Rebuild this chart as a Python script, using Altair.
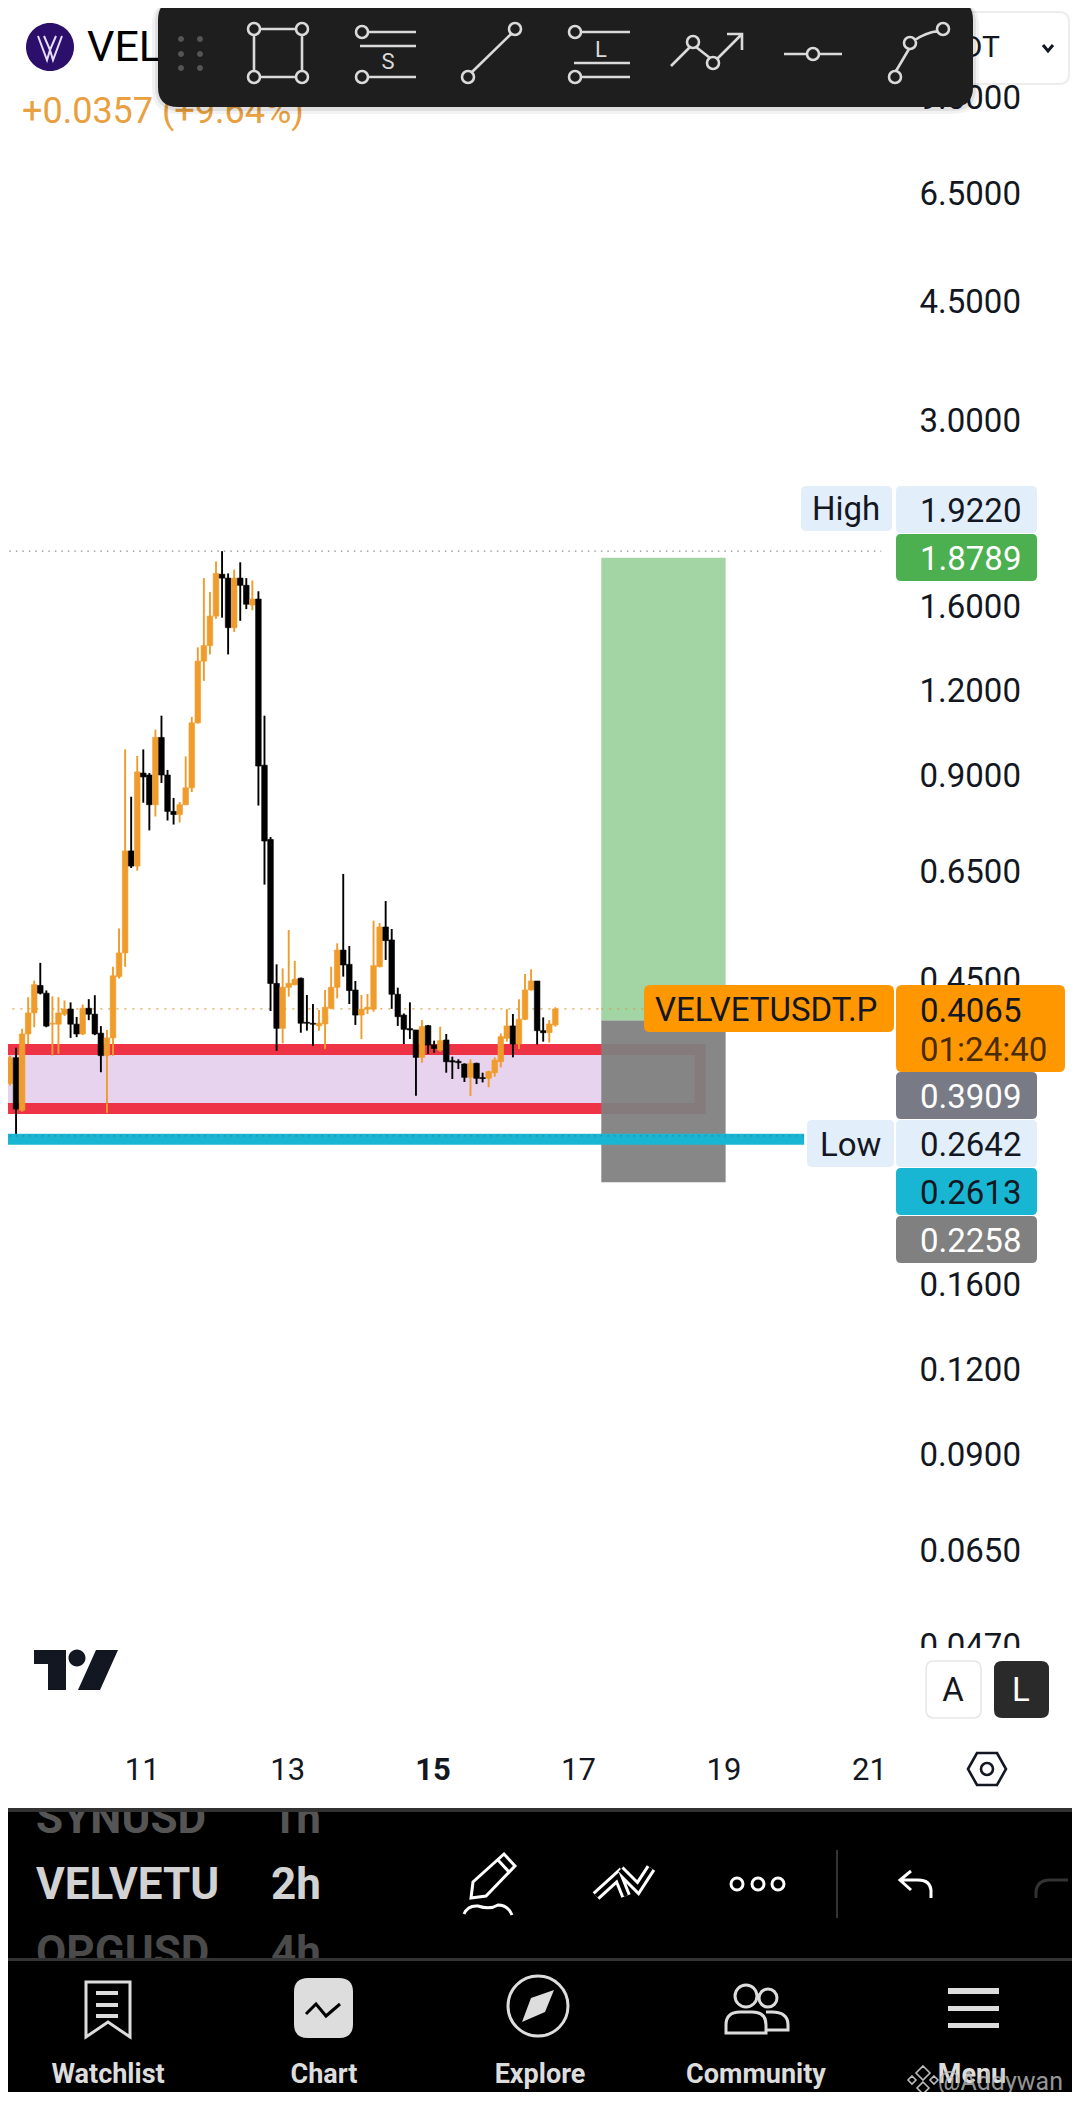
import altair as alt
import pandas as pd

# ---------- candle data (2h candles, days of the month) ----------
first_day = 9.1875
opens = [.3156,.3445,.2882,.3734,.4010,.4402,.4288,.3860,.3860,.3993,.4063,.3860,.3734,.4074,.3993,.3744,.3469,.3684,.4536,.4916,
         .6949,.6601,.9051,.8991,.8128,1.0214,.8991,.7946,.7862,.8128,.8610,1.0732,1.3232,1.3948,1.5418,1.7772,1.7538,1.4824,1.7538,1.7116,
         1.6006,1.6335,.9295,.7225,.4432,.3806,.4374,.4413,.4511,.3885,.3872,.3837,.3863,.4074,.4374,.4964,.4729,.4335,.3981,.4061,
         .4061,.4691,.5368,.5137,.4272,.3981,.3802,.3785,.3449,.3841,.3596,.3535,.3658,.3410,.3402,.3372,.3223,.3380,.3220,.3212,
         .3274,.3398,.3679,.3837,.3609,.3924,.4335,.4469,.3776,.3750,.3850]
highs = [.3469,.3562,.3800,.4230,.4475,.4753,.4328,.4242,.4230,.4184,.4156,.3956,.4127,.4202,.4259,.3835,.3785,.4689,.5342,.9807,
         .8352,.9589,.9807,.9051,1.0488,1.0996,.9147,.8318,.8206,.9577,1.0952,1.3866,1.7538,1.6729,1.8554,1.9220,1.7819,1.8053,1.8504,1.7538,
         1.7397,1.6773,1.0996,.7284,.4729,.4665,.5313,.4784,.4521,.4262,.4133,.4049,.4335,.4691,.5079,.6427,.5033,.4469,.4262,.4277,
         .5485,.5442,.5862,.5332,.4369,.4003,.4157,.3785,.3915,.3850,.3650,.3828,.3733,.3457,.3426,.3380,.3426,.3387,.3274,.3297,
         .3449,.3741,.4061,.3996,.4199,.4578,.4650,.4469,.3950,.3915,.4088]
lows = [.3135,.2642,.2867,.3609,.3820,.4270,.3820,.3469,.3492,.3967,.3684,.3694,.3719,.3913,.3719,.3279,.2856,.3469,.4506,.4689,
        .6558,.6498,.8184,.7450,.7810,.8752,.7705,.7600,.7653,.8128,.8486,1.0703,1.2373,1.3536,1.5275,1.5336,1.3536,1.4610,1.5173,1.5787,
        1.5726,.8106,.6198,.4036,.3527,.3617,.4238,.4404,.3750,.3776,.3588,.3776,.3547,.4061,.4213,.4536,.4133,.3850,.3671,.3996,
        .4028,.4681,.4800,.4066,.3837,.3609,.3671,.3028,.3387,.3489,.3504,.3516,.3274,.3205,.3315,.3172,.3025,.3150,.3168,.3116,
        .3230,.3334,.3638,.3449,.3547,.3915,.4326,.3604,.3638,.3626,.3828]
closes = [.3445,.2894,.3734,.4010,.4414,.4288,.3835,.3871,.4010,.4063,.3860,.3734,.4074,.3993,.3734,.3469,.3684,.4549,.4916,.6949,
          .6601,.9087,.8932,.8128,1.0214,.8991,.7946,.7862,.8128,.8610,1.0732,1.3232,1.3948,1.5418,1.7819,1.7538,1.4824,1.7538,1.7116,1.6050,
          1.6335,.9269,.7186,.4432,.3806,.4374,.4433,.4495,.3872,.3872,.3859,.3872,.4088,.4374,.4964,.4718,.4326,.3981,.4061,.4088,
          .4707,.5368,.5125,.4272,.3959,.3793,.3785,.3449,.3828,.3596,.3555,.3650,.3398,.3395,.3387,.3223,.3380,.3212,.3209,.3286,
          .3418,.3700,.3837,.3609,.3924,.4335,.4469,.3776,.3750,.3863,.4065]

# ---------- price levels ----------
high_price, low_price, last_price = 1.9220, 0.2642, 0.4065
tp_price, entry_price, sl_price = 1.8789, 0.3909, 0.2258
zone_top, zone_bottom = 0.3542, 0.2899
support_price = 0.2613
box_start, box_end, zone_end, support_end, high_end, last_end, left_day = 17.32, 19.03, 18.68, 20.11, 21.17, 17.9, 9.0

y_ticks = [9.0, 6.5, 4.5, 3.0, 1.6, 1.2, 0.9, 0.65, 0.45, 0.16, 0.12, 0.09, 0.065, 0.047]
x_ticks = [11, 13, 15, 17, 19, 21]

# ---------- colours ----------
UP, DOWN = "#F09C2C", "#000000"
RED, PURPLE = "#EF3347", "#E8D3EE"
CYAN, GREEN, GRAY = "#18B6D2", "#A2D5A3", "#808080"
ORANGE, LIGHT = "#FF9800", "#E3EEFB"
FONT = "Roboto"

candles = pd.DataFrame({
    "day": [first_day + i / 12 for i in range(len(opens))],
    "o": opens, "h": highs, "l": lows, "c": closes,
})
candles["color"] = [UP if c >= o else DOWN for o, c in zip(opens, closes)]

xs = alt.Scale(domain=[9.2289, 23.7248], nice=False, zero=False)
ys = alt.Scale(type="log", domain=[0.01030, 12.14], nice=False, zero=False)
X = lambda f: alt.X(f, type="quantitative", scale=xs, title=None)
Y = lambda f: alt.Y(f, type="quantitative", scale=ys, title=None)

layers = []


def path(d, fill="transparent", stroke="transparent", sw=0, op=1.0):
    """Chrome of the app window, drawn as one SVG path in window pixels."""
    layers.append(
        alt.Chart().mark_point(shape=d, size=4, filled=True, fill=fill, stroke=stroke,
                               strokeWidth=sw, opacity=op)
        .encode(x=alt.value(-8), y=alt.value(-8))
    )


def txt(s, x, y, size, color="#131722", weight=400, align="left", op=1.0):
    layers.append(
        alt.Chart().mark_text(text=s, font=FONT, fontSize=size, fontWeight=weight, color=color,
                              align=align, baseline="middle", opacity=op)
        .encode(x=alt.value(x - 8), y=alt.value(y - 6))
    )


def rr(x0, y0, x1, y1, r=0):
    if r == 0:
        return f"M{x0},{y0}L{x1},{y0}L{x1},{y1}L{x0},{y1}Z"
    return (f"M{x0+r},{y0}L{x1-r},{y0}Q{x1},{y0} {x1},{y0+r}L{x1},{y1-r}Q{x1},{y1} {x1-r},{y1}"
            f"L{x0+r},{y1}Q{x0},{y1} {x0},{y1-r}L{x0},{y0+r}Q{x0},{y0} {x0+r},{y0}Z")


def circ(cx, cy, r):
    return f"M{cx-r},{cy}A{r},{r} 0 1 1 {cx+r},{cy}A{r},{r} 0 1 1 {cx-r},{cy}Z"


def level(price, start, end, color, sw, dash=None, op=1.0):
    kw = {"strokeDash": dash} if dash else {}
    df = pd.DataFrame({"p": [price], "a": [start], "b": [end]})
    layers.append(alt.Chart(df).mark_rule(color=color, strokeWidth=sw, opacity=op, **kw)
                  .encode(x=X("a"), x2="b", y=Y("p")))


# ---------- axes: first layer carries them ----------
axis_holder = alt.Chart(pd.DataFrame({"a": [9.0], "p": [1.0]})).mark_point(opacity=0).encode(
    x=alt.X("a:Q", scale=xs, title=None, axis=alt.Axis(
        values=x_ticks, format="d", orient="bottom", offset=-322, domain=False, ticks=False, grid=False,
        labelPadding=0, labelFont=FONT, labelFontSize=31, labelColor="#131722", labelBaseline="middle",
        labelFlush=False, labelOverlap=False, zindex=1,
        labelFontWeight={"condition": {"test": "datum.value === 15", "value": 700}, "value": 400})),
    y=alt.Y("p:Q", scale=ys, title=None, axis=alt.Axis(
        values=y_ticks, format=".4f", orient="right", offset=-153, domain=False, ticks=False, grid=False,
        labelPadding=0, labelOffset=2, labelFont=FONT, labelFontSize=33, labelColor="#131722",
        labelBaseline="middle", labelAlign="left", labelFlush=False, labelOverlap=False, labelBound=False,
        zindex=0)),
)
layers.append(axis_holder)

# ---------- zone, position tool ----------
zone = pd.DataFrame({"a": [left_day], "b": [zone_end], "t": [zone_top], "u": [zone_bottom]})
layers.append(alt.Chart(zone).mark_rect(fill=PURPLE, stroke=RED, strokeWidth=11)
              .encode(x=X("a"), x2="b", y=Y("t"), y2="u"))

level(last_price, left_day, last_end, "#E0A040", 1.3, [2, 6])

# ---------- candles ----------
layers.append(alt.Chart(candles).mark_rule(strokeWidth=1.9).encode(
    x=X("day"), y=Y("h"), y2="l", color=alt.Color("color:N", scale=None, legend=None)))
layers.append(alt.Chart(candles).mark_bar(size=5.6, orient="vertical", strokeWidth=0.6).encode(
    x=X("day"), y=Y("o"), y2="c",
    color=alt.Color("color:N", scale=None, legend=None),
    stroke=alt.Stroke("color:N", scale=None, legend=None)))

level(high_price, left_day, high_end, "#8a8f99", 1.3, [1.5, 5])

boxes = pd.DataFrame({"a": [box_start, box_start], "b": [box_end, box_end],
                      "t": [tp_price, entry_price], "u": [entry_price, sl_price],
                      "color": [GREEN, GRAY], "op": [1.0, 0.94]})
layers.append(alt.Chart(boxes).mark_rect().encode(
    x=X("a"), x2="b", y=Y("t"), y2="u",
    color=alt.Color("color:N", scale=None, legend=None),
    opacity=alt.Opacity("op:Q", scale=None, legend=None)))
level(last_price, box_start, last_end, "#C9A257", 1.3, [2, 6])

level(support_price, left_day, support_end, CYAN, 11)
level(low_price, left_day, support_end, "#3d6f88", 1.2, [1.5, 5], 0.7)

# ---------- price badges ----------
path(rr(801, 486, 892, 531, 5), fill=LIGHT)
txt("High", 812, 508, 33)
path(rr(896, 486, 1037, 533, 5), fill=LIGHT)
txt("1.9220", 920, 510, 33)
path(rr(896, 534, 1037, 581, 5), fill="#4CAF50")
txt("1.8789", 920, 558, 33, "#ffffff")

path(rr(644, 985, 894, 1032, 6), fill=ORANGE)
txt("VELVETUSDT.P", 655, 1009, 33, "#131722")
path(rr(896, 985, 1065, 1072, 6), fill=ORANGE)
txt("0.4065", 920, 1010, 33, "#131722")
txt("01:24:40", 920, 1049, 33, "#4a2c00")
path(rr(896, 1072, 1037, 1119, 5), fill="#787B86")
txt("0.3909", 920, 1096, 33, "#ffffff")
path(rr(807, 1120, 894, 1167, 5), fill=LIGHT)
txt("Low", 820, 1144, 33)
path(rr(896, 1120, 1037, 1167, 5), fill=LIGHT)
txt("0.2642", 920, 1144, 33)
path(rr(896, 1168, 1037, 1215, 5), fill=CYAN)
txt("0.2613", 920, 1192, 33)
path(rr(896, 1216, 1037, 1263, 5), fill=GRAY)
txt("0.2258", 920, 1240, 33, "#ffffff")

# ---------- header ----------
path(circ(50, 47, 24), fill="#2B0F6B")
path("M38,36L47,60L50,50L53,60L62,36M44,36L50,50L56,36", stroke="#E7DDFB", sw=2)
txt("VELVETUSDT.P", 87, 46, 43, "#000000")
txt("+0.0357 (+9.64%)", 22, 110, 36, "#E8A040")
path(rr(900, 12, 1069, 84, 10), fill="#ffffff", stroke="#EDEDED", sw=2)
txt("USDT", 1000, 46, 30, "#131722", align="right")
path("M1043,45L1048,51L1053,45", stroke="#131722", sw=3)

# ---------- floating toolbar ----------
path(rr(152, 0, 979, 114, 26), fill="#000000", op=0.05)
path(rr(155, 0, 976, 111, 24), fill="#000000", op=0.08)
path(rr(158, 0, 973, 107, 20), fill="#1E1E1E")
path(circ(181, 39, 3) + circ(200, 39, 3) + circ(181, 54, 3) + circ(200, 54, 3) + circ(181, 68, 3) + circ(200, 68, 3),
     fill="#555555")
toolbar_icons = "".join([
    circ(254, 29, 6), circ(302, 29, 6), circ(254, 77, 6), circ(302, 77, 6),
    "M260,29L296,29M260,77L296,77M254,35L254,71M302,35L302,71",
    circ(362, 32, 6), circ(362, 77, 6), "M368,32L416,32M360,46L416,46M368,77L416,77",
    circ(468, 77, 6), circ(515, 29, 6), "M472,72L511,34",
    circ(575, 32, 6), circ(575, 77, 6), "M581,32L630,32M574,63L630,63M581,77L630,77",
    "M671,66L690,47", circ(693, 42, 6), "M696,47L710,58", circ(713, 63, 6), "M717,59L742,34M727,34L742,34L742,50",
    "M784,54L807,54M819,54L842,54", circ(813, 54, 6),
    circ(895, 77, 6), "M896,71L909,49", circ(910, 43, 6), "M915,40Q925,33 938,31", circ(943, 29, 6),
])
path(toolbar_icons, stroke="#DADADA", sw=2.6)
txt("S", 388, 60, 22, "#DADADA", align="center")
txt("L", 601, 48, 22, "#DADADA", align="center")

# ---------- bottom of the chart pane ----------
path(rr(0, 1648, 1090, 1808), fill="#ffffff")
logo = ("M34,1650L66,1650L66,1690L48,1690L48,1664L34,1664Z" + circ(77, 1658, 8.5)
        + "M96,1650L118,1650L100,1690L78,1690Z")
path(logo, fill="#131722")
path(rr(926, 1661, 981, 1718, 8), fill="#ffffff", stroke="#E6E6E6", sw=1.5)
txt("A", 953, 1689, 33, "#131722", align="center")
path(rr(994, 1661, 1049, 1718, 8), fill="#2A2A2A")
txt("L", 1021, 1689, 33, "#ffffff", align="center")
path("M968,1769L977,1753L997,1753L1006,1769L997,1785L977,1785Z" + circ(987, 1769, 6), stroke="#131722", sw=2.6)

# ---------- footer ----------
path(rr(0, 1808, 1090, 1958), fill="#000000")
txt("SYNUSD", 36, 1818, 44, "#555555", 700)
txt("1h", 271, 1818, 44, "#555555", 700)
txt("VELVETU", 36, 1884, 44, "#D2D2D2", 700)
txt("2h", 271, 1884, 44, "#D2D2D2", 700)
txt("OPGUSD", 36, 1952, 44, "#4A4A4A", 700)
txt("4h", 271, 1952, 44, "#4A4A4A", 700)
path(rr(0, 1800, 1090, 1808), fill="#ffffff")
path(rr(0, 1808, 1090, 1812), fill="#333333")
path(rr(0, 1958, 1090, 2110), fill="#000000")
path(rr(0, 1958, 1090, 1961), fill="#333333")

pencil = ("M471,1898L473,1882L504,1854L515,1866L486,1896ZM498,1860L509,1872"
          "M464,1914Q468,1905 478,1906Q490,1910 498,1905Q508,1905 512,1915")
path(pencil, stroke="#ffffff", sw=3)
zig = "M596,1896L618,1876L626,1896M620,1870L638,1888L651,1868"
path(zig, stroke="#ffffff", sw=10)
path(zig, stroke="#000000", sw=4)
path(circ(737, 1884, 6) + circ(758, 1884, 6) + circ(778, 1884, 6), stroke="#ffffff", sw=3)
path("M837,1850L837,1918", stroke="#333333", sw=2)
path("M931,1898L931,1890Q930,1880 918,1880L900,1880M911,1871L900,1880L911,1890", stroke="#ffffff", sw=3)
path("M1036,1898L1036,1892Q1037,1880 1050,1880L1068,1880", stroke="#333333", sw=3)

GREY_ICON = "#DDDDDD"
path("M86,1982L130,1982L130,2037L108,2022L86,2037Z", stroke=GREY_ICON, sw=3)
path("M96,1993L118,1993M96,2005L118,2005M96,2016L118,2016", stroke=GREY_ICON, sw=4)
path(rr(294, 1978, 353, 2038, 14), fill=GREY_ICON)
path("M306,2014L316,2004L326,2016L340,2004", stroke="#000000", sw=3)
path(circ(538, 2006, 30), stroke=GREY_ICON, sw=3)
path("M554,1990L545,2012L522,2022L531,1998Z", fill=GREY_ICON)
path(circ(746, 1996, 11) + circ(768, 1998, 9)
     + "M726,2033L726,2025Q726,2012 740,2012L752,2012Q766,2012 766,2025L766,2033Z"
       "M766,2012L772,2012Q788,2012 788,2025L788,2030L766,2030",
     stroke=GREY_ICON, sw=3)
path(rr(948, 1988, 999, 1994) + rr(948, 2006, 999, 2011) + rr(948, 2023, 999, 2028), fill=GREY_ICON)

for label, cx in [("Watchlist", 108), ("Chart", 324), ("Explore", 540), ("Community", 756), ("Menu", 972)]:
    txt(label, cx, 2073, 27, GREY_ICON, 700, align="center")

path("M923,2066L930,2073L923,2080L916,2073ZM912,2076L916,2080L912,2084L908,2080ZM934,2076L938,2080L934,2084L930,2080ZM923,2082L929,2088L923,2094L917,2088Z",
     stroke="#BBBBBB", sw=1.6)
txt("@Addywan", 938, 2080, 25, "#BBBBBB", 400, op=0.8)

chart = (
    alt.layer(*layers)
    .properties(width=1064, height=2084, padding=0, autosize=alt.AutoSizeParams(type="none"),
                background="#ffffff")
    .configure_view(stroke=None)
)
chart.save("out.html", embed_options={"renderer": "svg", "actions": False})
